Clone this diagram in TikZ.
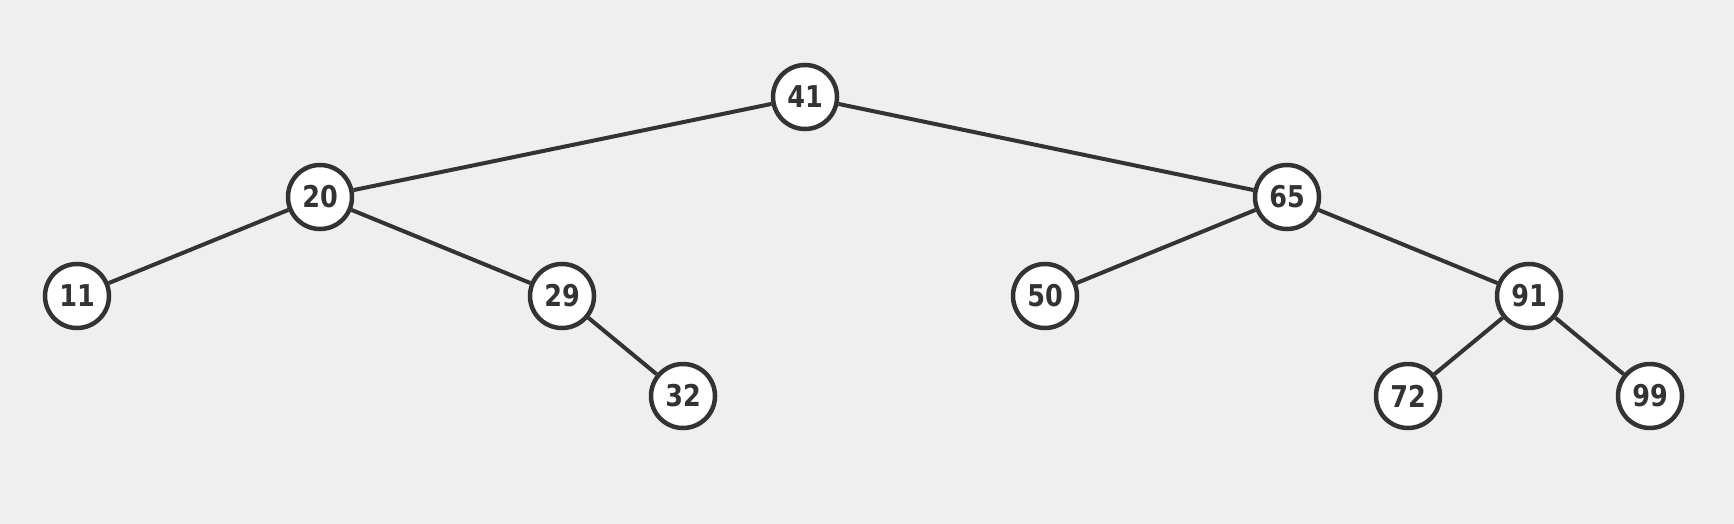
\documentclass[tikz,border=0pt]{standalone}
\usepackage{fontspec}
\setmainfont{DejaVu Sans}
\begin{document}
\begin{tikzpicture}[x=1pt,y=-1pt,
  bst/.style={circle,draw=ink,fill=white,line width=4.5pt,minimum size=64pt,inner sep=0pt,
    font=\fontsize{30}{30}\selectfont\bfseries,text=ink},
  edge/.style={draw=ink,line width=4pt}]
\definecolor{ink}{HTML}{333333}
\definecolor{bg}{HTML}{EFEFEF}
\fill[bg] (0,0) rectangle (1734,524);
\useasboundingbox (0,0) rectangle (1734,524);
\node[bst] (n41) at (805,97) {\scalebox{0.85}[1]{41}};
\node[bst] (n20) at (320,197) {\scalebox{0.85}[1]{20}};
\node[bst] (n65) at (1287,197) {\scalebox{0.85}[1]{65}};
\node[bst] (n11) at (77,296) {\scalebox{0.85}[1]{11}};
\node[bst] (n29) at (562,296) {\scalebox{0.85}[1]{29}};
\node[bst] (n50) at (1045,296) {\scalebox{0.85}[1]{50}};
\node[bst] (n91) at (1529,296) {\scalebox{0.85}[1]{91}};
\node[bst] (n32) at (683,396) {\scalebox{0.85}[1]{32}};
\node[bst] (n72) at (1408,396) {\scalebox{0.85}[1]{72}};
\node[bst] (n99) at (1650,396) {\scalebox{0.85}[1]{99}};
\draw[edge] (n41) -- (n20);
\draw[edge] (n41) -- (n65);
\draw[edge] (n20) -- (n11);
\draw[edge] (n20) -- (n29);
\draw[edge] (n29) -- (n32);
\draw[edge] (n65) -- (n50);
\draw[edge] (n65) -- (n91);
\draw[edge] (n91) -- (n72);
\draw[edge] (n91) -- (n99);
\end{tikzpicture}
\end{document}
